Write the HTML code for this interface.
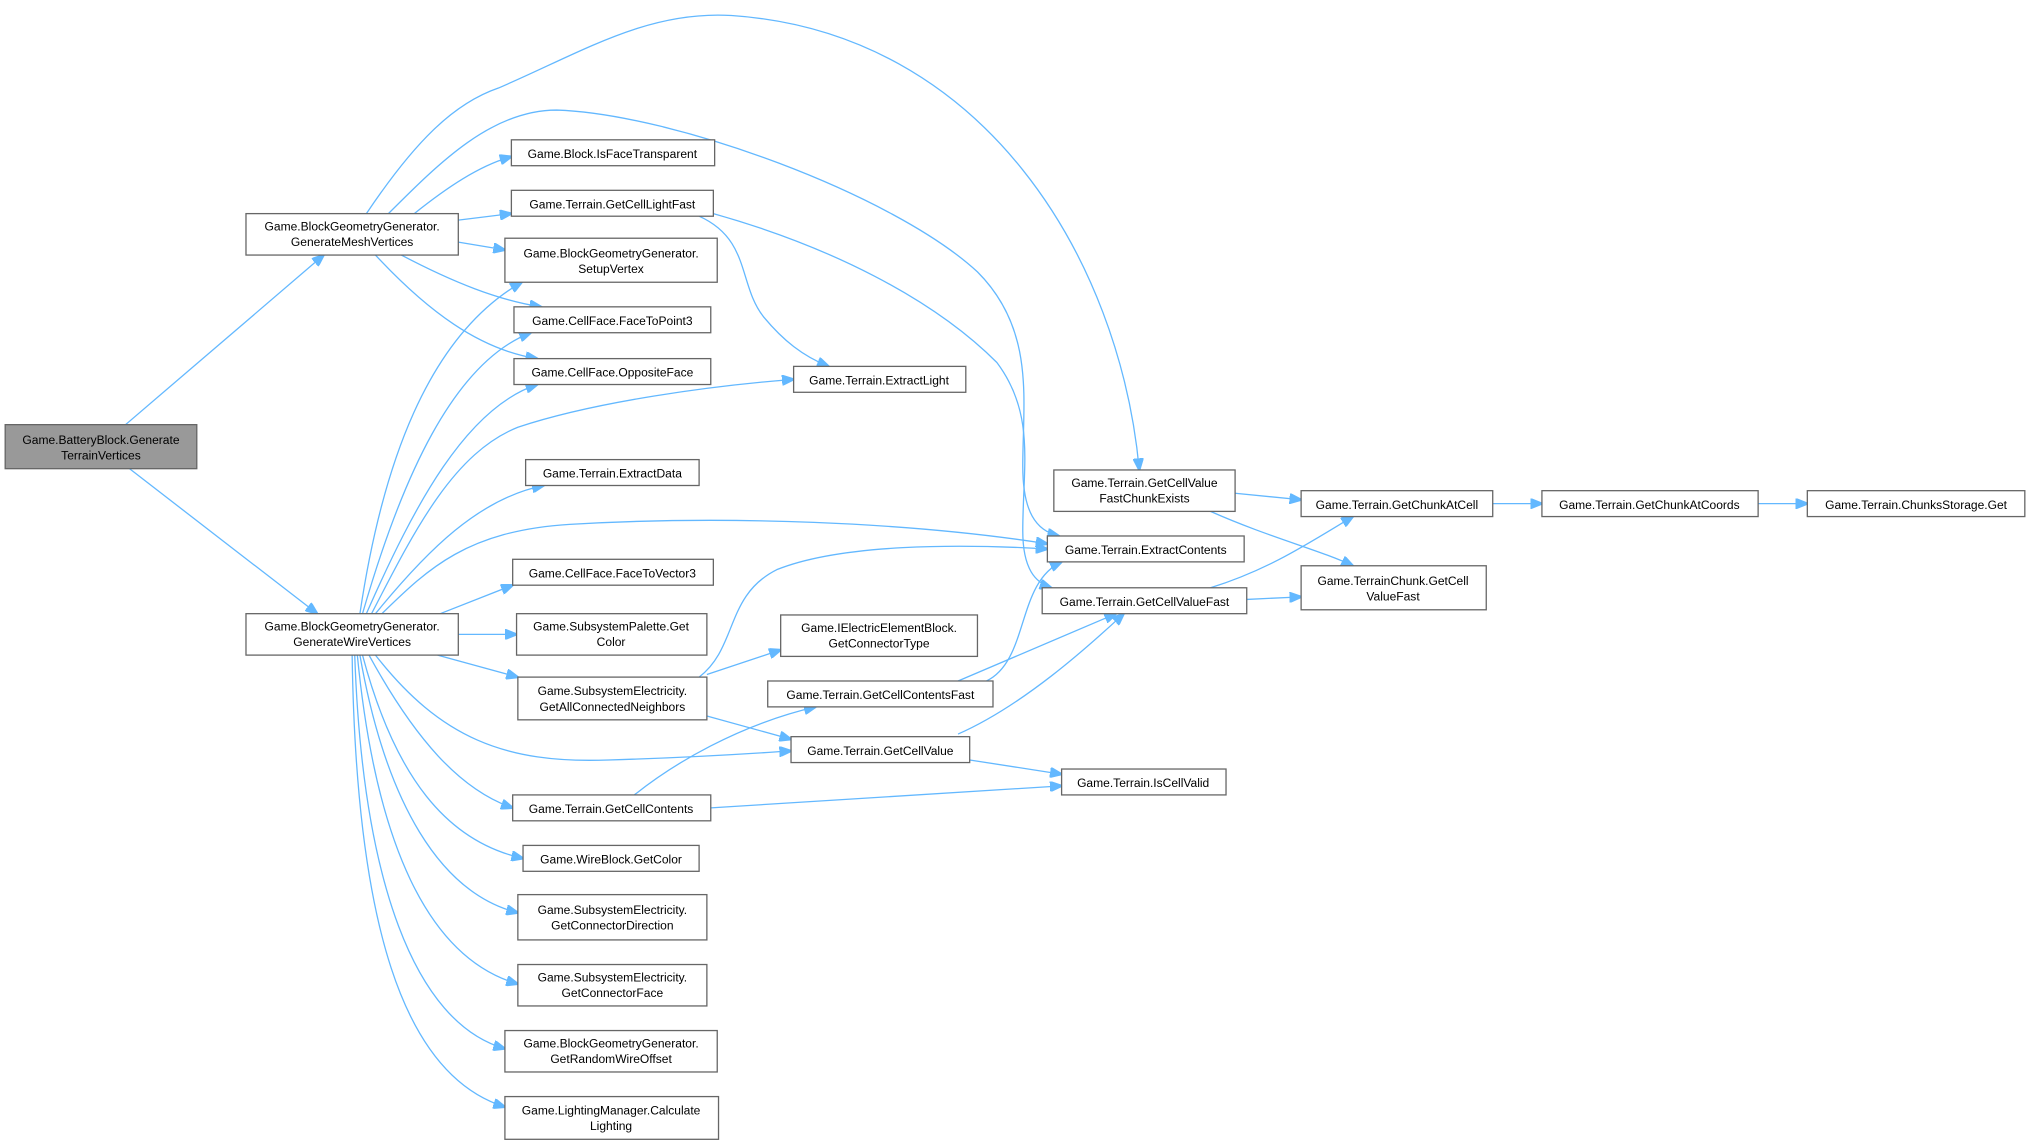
<!DOCTYPE html>
<html><head><meta charset="utf-8"><style>
html,body{margin:0;padding:0;background:#fff;}
svg{display:block;}
text{font-family:"Liberation Sans",sans-serif;font-size:9.3px;fill:#000;text-anchor:middle;}
rect{fill:#fff;stroke:#666;stroke-width:1;}
path{fill:none;stroke:#63b8ff;stroke-width:1;}
</style></head><body>
<svg width="2030" height="1145" viewBox="0 0 1568 884.4" preserveAspectRatio="none" xmlns="http://www.w3.org/2000/svg">
<defs><marker id="a" markerWidth="10" markerHeight="8" refX="9" refY="4" orient="auto" markerUnits="userSpaceOnUse"><path d="M0,0 L10,4 L0,8 z" style="fill:#63b8ff;stroke:#63b8ff"/></marker></defs>
<g marker-end="url(#a)">
<path d="M97,328 L250,197"/>
<path d="M100,362 L245,474"/>
<path d="M320,165 C345,145 370,128 395,121"/>
<path d="M354,170 L395,165"/>
<path d="M354,187 L390,193"/>
<path d="M310,197 C350,218 385,232 418,237"/>
<path d="M290,197 C330,240 370,270 415,277"/>
<path d="M283,165 C320,110 350,80 385,68 C450,40 500,8 565,12 C760,25 865,200 880,363"/>
<path d="M300,165 C340,125 380,85 430,85 C520,88 690,150 755,210 C800,255 790,310 790,360 C790,395 800,410 818,414"/>
<path d="M551,165 C640,190 720,230 770,280 C800,320 790,360 790,410 C790,440 800,450 812,454"/>
<path d="M540,167 C580,185 570,220 590,245 C605,263 620,275 640,283"/>
<path d="M278,474 C295,360 330,260 403,218"/>
<path d="M280,474 C310,370 350,280 410,257"/>
<path d="M283,474 C320,390 360,315 415,297"/>
<path d="M287,474 C320,410 350,350 400,330 C460,310 550,298 613,293"/>
<path d="M290,474 C330,425 370,385 420,375"/>
<path d="M295,474 C330,440 360,410 440,405 C560,398 700,403 809,420"/>
<path d="M340,474 L396,452"/>
<path d="M354,490 L399,490"/>
<path d="M338,506 L400,523"/>
<path d="M290,506 C340,570 390,590 470,587 C540,585 580,582 611,580"/>
<path d="M285,506 C320,570 355,610 396,624"/>
<path d="M280,506 C305,600 345,650 404,663"/>
<path d="M278,506 C298,620 340,690 400,705"/>
<path d="M276,506 C290,650 330,740 400,760"/>
<path d="M274,506 C280,680 320,790 390,810"/>
<path d="M272,506 C275,710 310,830 390,855"/>
<path d="M546,521 L603,502"/>
<path d="M540,523 C570,500 560,460 600,440 C650,420 740,420 809,424"/>
<path d="M546,553 L611,571"/>
<path d="M490,614 C520,590 570,560 630,546"/>
<path d="M549,624 L820,607"/>
<path d="M749,587 L820,598"/>
<path d="M740,567 C790,545 840,500 868,474"/>
<path d="M740,526 L862,474"/>
<path d="M762,526 C795,510 785,450 820,434"/>
<path d="M935,454 C980,440 1010,420 1045,399"/>
<path d="M963,463 L1005,461"/>
<path d="M954,381 L1005,386"/>
<path d="M935,395 C980,415 1020,425 1045,437"/>
<path d="M1153,389 L1191,389"/>
<path d="M1358,389 L1396,389"/>
</g>
<rect x="4" y="328" width="148" height="34" style="fill:#999"/>
<text x="78" y="343">Game.BatteryBlock.Generate</text><text x="78" y="355">TerrainVertices</text>
<rect x="190" y="165" width="164" height="32"/>
<text x="272" y="178">Game.BlockGeometryGenerator.</text><text x="272" y="190">GenerateMeshVertices</text>
<rect x="190" y="474" width="164" height="32"/>
<text x="272" y="487">Game.BlockGeometryGenerator.</text><text x="272" y="499">GenerateWireVertices</text>
<rect x="395" y="108" width="157" height="20"/><text x="473" y="122">Game.Block.IsFaceTransparent</text>
<rect x="395" y="147" width="156" height="20"/><text x="473" y="161">Game.Terrain.GetCellLightFast</text>
<rect x="390" y="184" width="164" height="34"/><text x="472" y="199">Game.BlockGeometryGenerator.</text><text x="472" y="211">SetupVertex</text>
<rect x="397" y="237" width="152" height="20"/><text x="473" y="251">Game.CellFace.FaceToPoint3</text>
<rect x="397" y="277" width="152" height="20"/><text x="473" y="291">Game.CellFace.OppositeFace</text>
<rect x="613" y="283" width="133" height="20"/><text x="679" y="297">Game.Terrain.ExtractLight</text>
<rect x="406" y="355" width="134" height="20"/><text x="473" y="369">Game.Terrain.ExtractData</text>
<rect x="396" y="432" width="155" height="20"/><text x="473" y="446">Game.CellFace.FaceToVector3</text>
<rect x="399" y="474" width="147" height="32"/><text x="472" y="487">Game.SubsystemPalette.Get</text><text x="472" y="499">Color</text>
<rect x="400" y="523" width="146" height="33"/><text x="473" y="537">Game.SubsystemElectricity.</text><text x="473" y="549">GetAllConnectedNeighbors</text>
<rect x="396" y="614" width="153" height="20"/><text x="472" y="628">Game.Terrain.GetCellContents</text>
<rect x="404" y="653" width="136" height="20"/><text x="472" y="667">Game.WireBlock.GetColor</text>
<rect x="400" y="691" width="146" height="35"/><text x="473" y="706">Game.SubsystemElectricity.</text><text x="473" y="718">GetConnectorDirection</text>
<rect x="400" y="745" width="146" height="32"/><text x="473" y="758">Game.SubsystemElectricity.</text><text x="473" y="770">GetConnectorFace</text>
<rect x="390" y="796" width="164" height="32"/><text x="472" y="809">Game.BlockGeometryGenerator.</text><text x="472" y="821">GetRandomWireOffset</text>
<rect x="390" y="847" width="165" height="33"/><text x="472" y="861">Game.LightingManager.Calculate</text><text x="472" y="873">Lighting</text>
<rect x="814" y="363" width="140" height="32"/><text x="884" y="376">Game.Terrain.GetCellValue</text><text x="884" y="388">FastChunkExists</text>
<rect x="809" y="414" width="152" height="20"/><text x="885" y="428">Game.Terrain.ExtractContents</text>
<rect x="805" y="454" width="158" height="20"/><text x="884" y="468">Game.Terrain.GetCellValueFast</text>
<rect x="603" y="475" width="152" height="32"/><text x="679" y="488">Game.IElectricElementBlock.</text><text x="679" y="500">GetConnectorType</text>
<rect x="593" y="526" width="174" height="20"/><text x="680" y="540">Game.Terrain.GetCellContentsFast</text>
<rect x="611" y="569" width="138" height="20"/><text x="680" y="583">Game.Terrain.GetCellValue</text>
<rect x="820" y="594" width="127" height="20"/><text x="883" y="608">Game.Terrain.IsCellValid</text>
<rect x="1005" y="379" width="148" height="20"/><text x="1079" y="393">Game.Terrain.GetChunkAtCell</text>
<rect x="1005" y="437" width="143" height="34"/><text x="1076" y="452">Game.TerrainChunk.GetCell</text><text x="1076" y="464">ValueFast</text>
<rect x="1191" y="379" width="167" height="20"/><text x="1274" y="393">Game.Terrain.GetChunkAtCoords</text>
<rect x="1396" y="379" width="168" height="20"/><text x="1480" y="393">Game.Terrain.ChunksStorage.Get</text>
</svg>
</body></html>
